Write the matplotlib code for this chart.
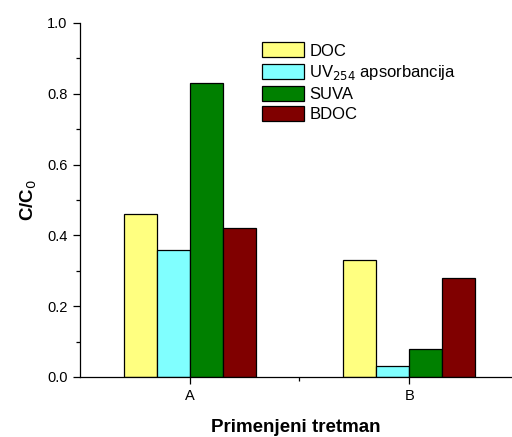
import matplotlib.pyplot as plt
from matplotlib.ticker import MultipleLocator, FixedLocator
import numpy as np

plt.rcParams['font.family'] = ['Liberation Sans', 'DejaVu Sans']

groups = ['A', 'B']
series = ['DOC', 'UV$_{254}$ apsorbancija', 'SUVA', 'BDOC']
values = [
    [0.46, 0.33],
    [0.36, 0.03],
    [0.83, 0.08],
    [0.42, 0.28],
]
colors = ['#FFFF80', '#80FFFF', '#008000', '#800000']

fig = plt.figure(figsize=(5.12, 4.37), dpi=100)
ax = fig.add_axes([80 / 512, 60 / 437, 432 / 512, 354 / 437])

x = np.arange(1, len(groups) + 1)
w = 0.15
for i, (name, vals, c) in enumerate(zip(series, values, colors)):
    ax.bar(x + (i - 1.5) * w, vals, width=w, color=c, edgecolor='black',
           linewidth=0.9, label=name)

ax.set_xlim(0.5, 1 + (512 - 189) / 220)
ax.set_ylim(0, 1.0)
ax.set_xticks(x)
ax.set_xticklabels(groups)
ax.xaxis.set_minor_locator(FixedLocator([1.5]))
ax.yaxis.set_major_locator(MultipleLocator(0.2))
ax.yaxis.set_minor_locator(MultipleLocator(0.1))
ax.tick_params(which='major', direction='out', length=5, width=0.9,
               labelsize=10.5, pad=4)
ax.tick_params(which='minor', direction='out', length=3, width=0.9)
for s in ['top', 'right']:
    ax.spines[s].set_visible(False)
for s in ['left', 'bottom']:
    ax.spines[s].set_linewidth(0.9)

ax.set_ylabel('C/C$_0$', fontsize=13.5, fontweight='bold', labelpad=6)
ax.set_xlabel('Primenjeni tretman', fontsize=13.5, fontweight='bold', labelpad=11)

ax.legend(loc='upper left', bbox_to_anchor=(0.421, 0.945), frameon=False,
          fontsize=12, handlelength=2.5, handleheight=1.0, labelspacing=0.25,
          handletextpad=0.35, borderaxespad=0, borderpad=0)

fig.savefig('out.png', dpi=100)
